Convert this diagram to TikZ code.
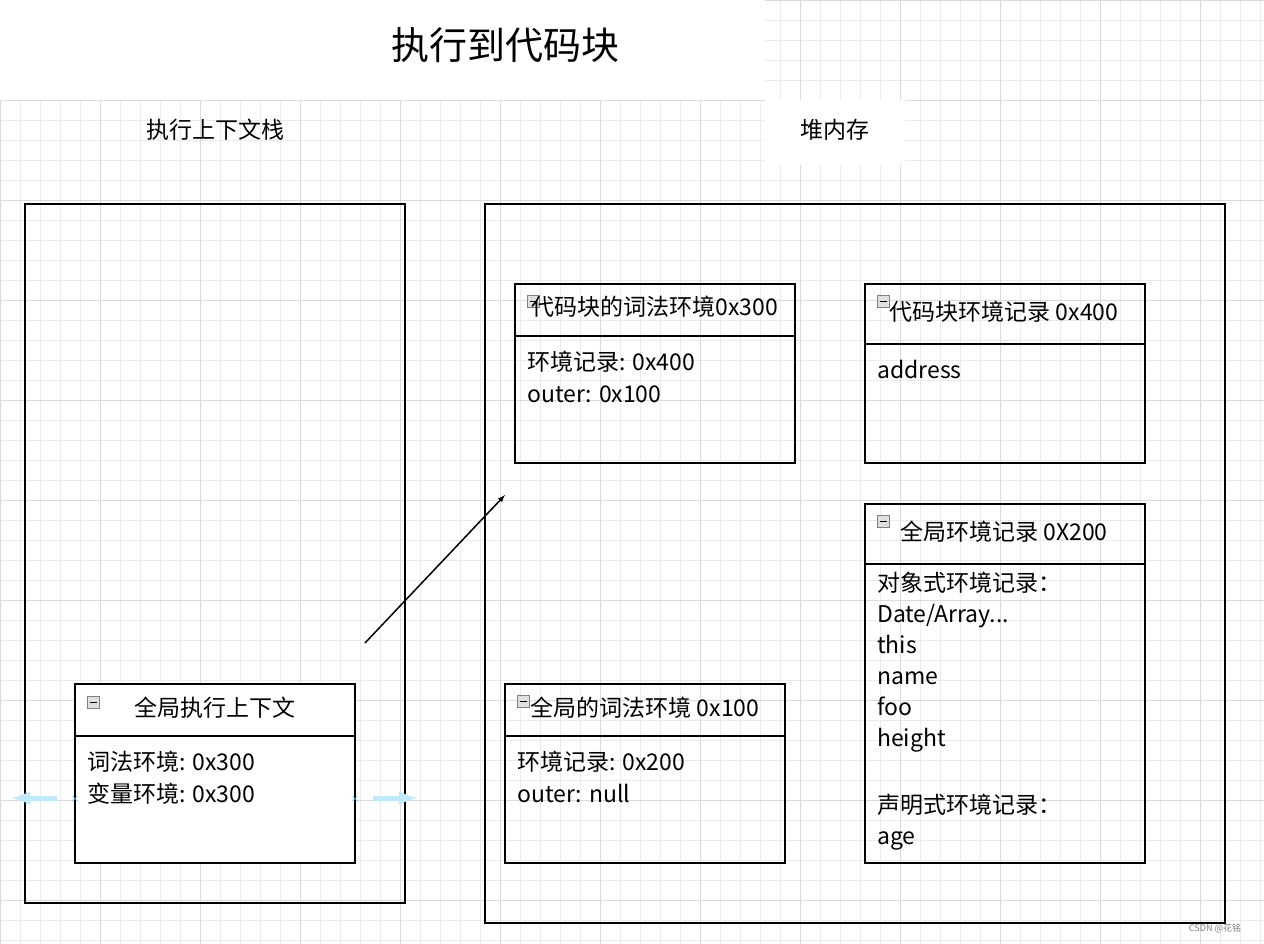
\documentclass[tikz,border=0pt]{standalone}
\usepackage{fontspec}
\setmainfont{Noto Sans CJK SC}
\begin{document}
\begin{tikzpicture}[x=1pt,y=-1pt,
  box/.style={draw=black,line width=1.5pt},
  txt/.style={anchor=west,inner sep=0pt,text height=17pt,text depth=5pt,font=\fontsize{23}{25}\selectfont},
  ttl/.style={inner sep=0pt,text height=17pt,text depth=5pt,font=\fontsize{23}{25}\selectfont},
  icon/.style={draw=gray,fill=gray!25,minimum size=12pt,inner sep=0pt,line width=0.8pt,
    path picture={\draw[black,line width=1pt] ([xshift=-3.5pt]path picture bounding box.center)--([xshift=3.5pt]path picture bounding box.center);}}]
\useasboundingbox (0,0) rectangle (1264,944);
\fill[white] (0,0) rectangle (1264,944);
\foreach \k in {0,20,...,1260} \draw[black!8,line width=0.6pt] (\k,0)--(\k,944);
\foreach \k in {0,20,...,940} \draw[black!8,line width=0.6pt] (0,\k)--(1264,\k);
\foreach \k in {0,100,...,1200} \draw[black!14,line width=0.8pt] (\k,0)--(\k,944);
\foreach \k in {0,100,...,900} \draw[black!14,line width=0.8pt] (0,\k)--(1264,\k);
\fill[white] (0,0) rectangle (765,100);
\fill[white] (765,100) rectangle (905,165);
\node[inner sep=0pt,font=\fontsize{38}{40}\selectfont] (title) at (505,45) {执行到代码块};
\node[ttl] (stackl) at (215,133) {执行上下文栈};
\node[ttl] (heapl) at (835,133) {堆内存};
% outer boxes
\draw[box] (25,204) rectangle (405,903);
\draw[box] (485,204) rectangle (1225,923);
% global exec context
\draw[box,fill=white] (75,684) rectangle (355,863); \draw[box] (75,736)--(355,736);
\node[icon] (i1) at (93,702) {};
\node[ttl] (gec) at (215,710) {全局执行上下文};
\node[txt] (g1) at (87,764) {词法环境: 0x300};
\node[txt] (g2) at (87,796) {变量环境: 0x300};
% code block lexical
\draw[box] (515,284) rectangle (795,463); \draw[box] (515,336)--(795,336);
\node[icon] (i2) at (533,301) {};
\node[ttl] (cbl) at (655,309) {代码块的词法环境0x300};
\node[txt] (c1) at (527,364) {环境记录: 0x400};
\node[txt] (c2) at (527,396) {outer: 0x100};
% code block env record
\draw[box] (865,284) rectangle (1145,463); \draw[box] (865,344)--(1145,344);
\node[icon] (i3) at (883,301) {};
\node[ttl] (cbe) at (1004,314) {代码块环境记录 0x400};
\node[txt] (e1) at (877,372) {address};
% global env record
\draw[box] (865,504) rectangle (1145,863); \draw[box] (865,564)--(1145,564);
\node[icon] (i4) at (883,521) {};
\node[ttl] (ger) at (1004,534) {全局环境记录 0X200};
\node[txt] (r0) at (877,585) {对象式环境记录：};
\node[txt] (r1) at (877,616) {Date/Array...};
\node[txt] (r2) at (877,647) {this};
\node[txt] (r3) at (877,678) {name};
\node[txt] (r4) at (877,709) {foo};
\node[txt] (r5) at (877,740) {height};
\node[txt] (r7) at (877,807) {声明式环境记录：};
\node[txt] (r8) at (877,838) {age};
% global lexical
\draw[box] (505,684) rectangle (785,863); \draw[box] (505,736)--(785,736);
\node[icon] (i5) at (523,701) {};
\node[ttl] (gl) at (645,710) {全局的词法环境 0x100};
\node[txt] (l1) at (517,764) {环境记录: 0x200};
\node[txt] (l2) at (517,796) {outer: null};
% arrow
\coordinate (as) at (365,643); \coordinate (ae) at (505,495);
\draw[line width=1.5pt,-latex] (as)--(ae);
% faint blue handles
\coordinate (h1) at (57,798); \coordinate (h2) at (12,798);
\coordinate (h3) at (373,798); \coordinate (h4) at (417,798);
\draw[cyan!25,line width=5pt,-latex] (h1)--(h2);
\draw[cyan!25,line width=5pt,-latex] (h3)--(h4);
\node[text=cyan!70,font=\small] (x1) at (75,799) {×};
\node[text=cyan!70,font=\small] (x2) at (355,799) {×};
\node[text=gray,font=\fontsize{9}{10}\selectfont] (wm) at (1215,928) {CSDN @花铭};
\end{tikzpicture}
\end{document}
